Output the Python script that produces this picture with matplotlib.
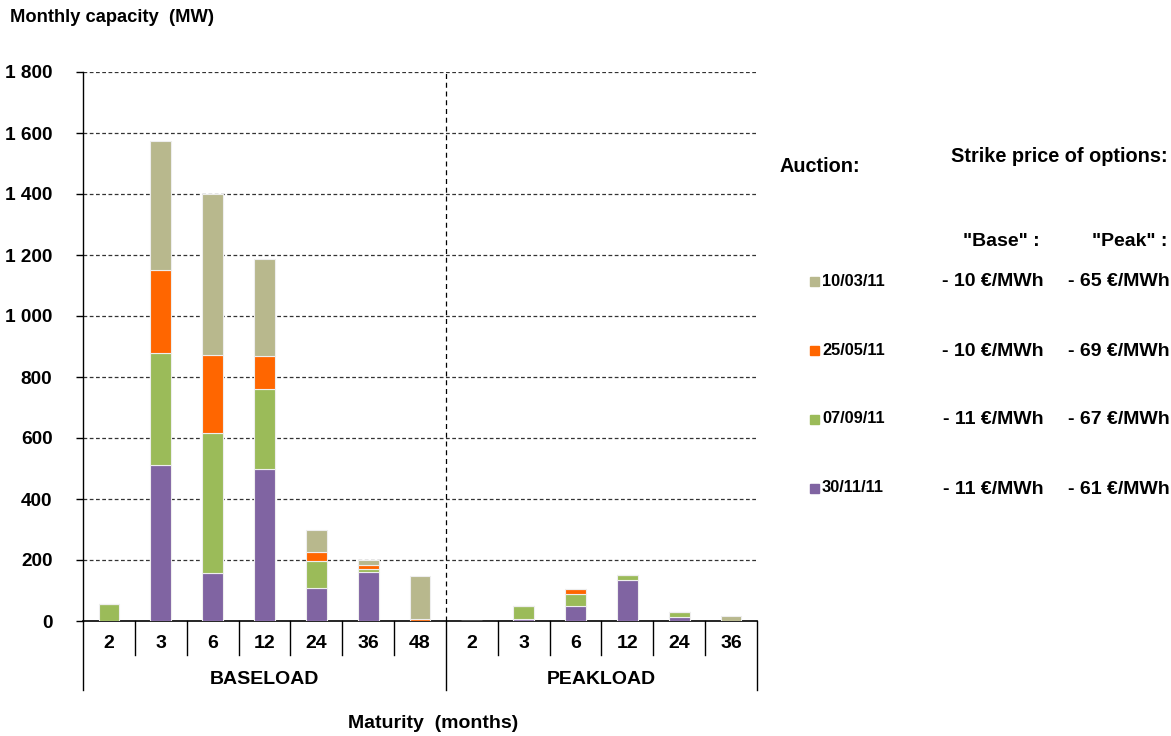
import matplotlib
matplotlib.use("Agg")
import matplotlib.pyplot as plt
from matplotlib.patches import Rectangle
import numpy as np

plt.rcParams['font.family'] = ['Liberation Sans', 'DejaVu Sans']
plt.rcParams['font.weight'] = 'bold'

# Maturities (months) for each product group
base_maturities = ["2", "3", "6", "12", "24", "36", "48"]
peak_maturities = ["2", "3", "6", "12", "24", "36"]
groups = ["BASELOAD", "PEAKLOAD"]

# Monthly capacity (MW) allocated at each auction, baseload then peakload
cap_30_11_11 = [0, 510, 157, 500, 107, 162, 0,    0, 7, 50, 135, 12, 0]
cap_07_09_11 = [55, 370, 460, 260, 90, 8, 0,      0, 43, 37, 15, 17, 0]
cap_25_05_11 = [0, 270, 255, 108, 30, 15, 8,      0, 0, 17, 0, 0, 0]
cap_10_03_11 = [0, 425, 528, 318, 71, 14, 141,    0, 0, 0, 0, 0, 16]

auction_dates = ["10/03/11", "25/05/11", "07/09/11", "30/11/11"]
strike_base = ["- 10 €/MWh", "- 10 €/MWh", "- 11 €/MWh", "- 11 €/MWh"]
strike_peak = ["- 65 €/MWh", "- 69 €/MWh", "- 67 €/MWh", "- 61 €/MWh"]

colors = {
    "30/11/11": "#8064A2",
    "07/09/11": "#9BBB59",
    "25/05/11": "#FF6600",
    "10/03/11": "#B8B88D",
}

yticks = [0, 200, 400, 600, 800, 1000, 1200, 1400, 1600, 1800]
ytick_labels = ["0", "200", "400", "600", "800", "1 000", "1 200", "1 400", "1 600", "1 800"]

W, H = 1171, 736
fig = plt.figure(figsize=(W / 100, H / 100), dpi=100)
ax = fig.add_axes([83 / W, 1 - 621 / H, (757 - 83) / W, (621 - 72) / H])

labels = base_maturities + peak_maturities
x = np.arange(len(labels))

stack = [("30/11/11", cap_30_11_11), ("07/09/11", cap_07_09_11),
         ("25/05/11", cap_25_05_11), ("10/03/11", cap_10_03_11)]
bottom = np.zeros(len(labels))
for name, vals in stack:
    vals = np.array(vals, dtype=float)
    ax.bar(x, vals, width=0.4, bottom=bottom, color=colors[name],
           edgecolor="#eeeeee", linewidth=0.8, zorder=3)
    bottom += vals

ax.set_xlim(-0.5, len(labels) - 0.5)
ax.set_ylim(0, 1800)

# Dashed horizontal grid
for yv in yticks[1:]:
    ax.axhline(yv, color="#333333", linestyle=(0, (3, 2)), linewidth=0.9, zorder=1)

# Dashed divider between baseload and peakload
nb = len(base_maturities)
ax.axvline(nb - 0.5, color="black", linestyle=(0, (4, 3)), linewidth=0.9, zorder=1)

for s in ["top", "right"]:
    ax.spines[s].set_visible(False)
ax.spines["left"].set_linewidth(1.0)
ax.spines["bottom"].set_linewidth(1.2)

ax.set_yticks(yticks)
ax.set_yticklabels(ytick_labels, fontsize=13.7, fontweight="bold")
ax.tick_params(axis="y", direction="out", length=5, width=1, pad=17)
ax.set_xticks([])

trans = ax.get_xaxis_transform()
px = 1.0 / (621 - 72)  # one pixel in axes-y units

# Category separators and labels
for i in range(len(labels) + 1):
    xpos = i - 0.5
    if i in (0, nb, len(labels)):
        y_end = -(690 - 621) * px
    else:
        y_end = -(655 - 621) * px
    ax.plot([xpos, xpos], [0, y_end], transform=trans, color="black",
            linewidth=1.0, clip_on=False)
for i, lab in enumerate(labels):
    ax.text(i, -(643 - 621) * px, lab, transform=trans, ha="center", va="center",
            fontsize=14, fontweight="bold")

group_centres = [(nb - 1) / 2, nb + (len(peak_maturities) - 1) / 2]
for gx, g in zip(group_centres, groups):
    ax.text(gx, -(680 - 621) * px, g, transform=trans, ha="center", va="center",
            fontsize=14, fontweight="bold")

fig.text(433 / W, 1 - 724 / H, "Maturity  (months)", ha="center", va="center",
         fontsize=14, fontweight="bold")
fig.text(10 / W, 1 - 17 / H, "Monthly capacity  (MW)", ha="left", va="center",
         fontsize=13.2, fontweight="bold")

# Auction key with strike prices
fig.text(780 / W, 1 - 167 / H, "Auction:", ha="left", va="center",
         fontsize=14.3, fontweight="bold")
fig.text(1168 / W, 1 - 156 / H, "Strike price of options:", ha="right", va="center",
         fontsize=14.3, fontweight="bold")
fig.text(1040 / W, 1 - 242 / H, '"Base" :', ha="right", va="center",
         fontsize=14, fontweight="bold")
fig.text(1167 / W, 1 - 242 / H, '"Peak" :', ha="right", va="center",
         fontsize=14, fontweight="bold")

row_y = [281, 350, 419, 488]
for ry, date, sb, sp in zip(row_y, auction_dates, strike_base, strike_peak):
    fig.add_artist(Rectangle((810 / W, 1 - (ry + 5) / H), 9 / W, 9 / H,
                             transform=fig.transFigure, color=colors[date]))
    fig.text(822 / W, 1 - ry / H, date, ha="left", va="center",
             fontsize=11.8, fontweight="bold")
    fig.text(1044 / W, 1 - (ry + 1) / H, sb, ha="right", va="center",
             fontsize=14, fontweight="bold")
    fig.text(1170 / W, 1 - (ry + 1) / H, sp, ha="right", va="center",
             fontsize=14, fontweight="bold")

fig.savefig("out.png", dpi=100, facecolor="white")
